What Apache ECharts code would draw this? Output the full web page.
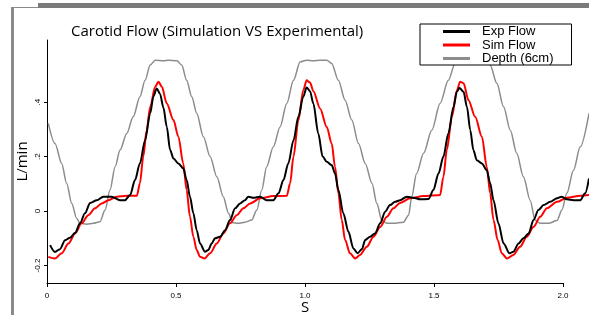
<!DOCTYPE html>
<html>
<head>
<meta charset="utf-8">
<script src="https://cdn.jsdelivr.net/npm/echarts@6/dist/echarts.min.js"></script>
<style>
  html, body { margin: 0; padding: 0; background: #fff; }
  #chart { width: 589px; height: 315px; }
</style>
</head>
<body>
<div id="chart"></div>
<script>
// values, [seconds, L/min]
const expFlow = [
  [0.012,-0.125],[0.031,-0.15],[0.05,-0.14],[0.07,-0.107],[0.089,-0.098],[0.109,-0.08],[0.128,-0.045],
  [0.147,-0.008],[0.167,0.03],[0.193,0.04],[0.218,0.053],[0.25,0.053],[0.283,0.04],[0.302,0.04],
  [0.322,0.059],[0.341,0.114],[0.36,0.175],[0.38,0.26],[0.4,0.36],[0.412,0.42],[0.425,0.45],
  [0.438,0.43],[0.451,0.38],[0.464,0.31],[0.477,0.224],[0.49,0.193],[0.509,0.175],[0.528,0.157],
  [0.541,0.114],[0.554,0.053],[0.567,-0.008],[0.58,-0.07],[0.593,-0.119],[0.612,-0.149],[0.625,-0.143],
  [0.638,-0.119],[0.651,-0.1],[0.671,-0.094],[0.69,-0.07],[0.709,-0.033],[0.729,0.01],[0.748,0.028],
  [0.767,0.04],[0.78,0.053],[0.8,0.049],[0.826,0.053],[0.851,0.04],[0.877,0.04],[0.897,0.065],
  [0.916,0.114],[0.935,0.175],[0.955,0.26],[0.974,0.346],[0.993,0.42],[1.006,0.454],[1.019,0.44],
  [1.032,0.395],[1.051,0.285],[1.068,0.2],[1.084,0.181],[1.103,0.169],[1.116,0.138],[1.129,0.077],
  [1.148,-0.008],[1.168,-0.076],[1.187,-0.137],[1.203,-0.155],[1.22,-0.14],[1.233,-0.106],[1.252,-0.094],
  [1.271,-0.082],[1.291,-0.045],[1.31,-0.002],[1.329,0.022],[1.349,0.034],[1.368,0.04],[1.394,0.053],
  [1.42,0.049],[1.446,0.043],[1.478,0.044],[1.497,0.077],[1.517,0.138],[1.536,0.2],[1.555,0.285],
  [1.575,0.383],[1.588,0.438],[1.598,0.452],[1.614,0.438],[1.627,0.383],[1.64,0.297],[1.652,0.224],
  [1.665,0.187],[1.685,0.175],[1.704,0.15],[1.717,0.102],[1.73,0.04],[1.749,-0.045],[1.769,-0.119],
  [1.792,-0.155],[1.807,-0.149],[1.827,-0.119],[1.846,-0.1],[1.866,-0.082],[1.885,-0.033],[1.904,0.004],
  [1.924,0.022],[1.95,0.034],[1.976,0.047],[1.995,0.053],[2.014,0.043],[2.04,0.04],[2.066,0.04],
  [2.085,0.065],[2.1,0.12]
];
const simFlow = [
  [0.005,-0.168],[0.031,-0.174],[0.057,-0.155],[0.083,-0.119],[0.109,-0.082],[0.134,-0.045],[0.16,-0.015],
  [0.186,0.01],[0.212,0.028],[0.238,0.04],[0.27,0.053],[0.309,0.056],[0.348,0.056],[0.36,0.102],
  [0.373,0.2],[0.386,0.297],[0.4,0.383],[0.419,0.456],[0.432,0.475],[0.445,0.456],[0.464,0.395],
  [0.49,0.334],[0.509,0.273],[0.528,0.175],[0.541,0.077],[0.554,-0.021],[0.567,-0.094],[0.58,-0.143],
  [0.593,-0.168],[0.61,-0.174],[0.632,-0.155],[0.658,-0.119],[0.683,-0.082],[0.709,-0.045],[0.735,-0.015],
  [0.761,0.01],[0.787,0.028],[0.826,0.047],[0.877,0.055],[0.929,0.056],[0.942,0.102],[0.955,0.2],
  [0.974,0.334],[0.993,0.444],[1.006,0.48],[1.019,0.472],[1.032,0.44],[1.058,0.377],[1.084,0.309],
  [1.103,0.248],[1.116,0.163],[1.129,0.065],[1.142,-0.033],[1.155,-0.106],[1.174,-0.155],[1.194,-0.174],
  [1.213,-0.161],[1.239,-0.131],[1.265,-0.094],[1.291,-0.058],[1.317,-0.021],[1.342,0.01],[1.368,0.03],
  [1.407,0.047],[1.459,0.055],[1.523,0.059],[1.536,0.126],[1.549,0.224],[1.569,0.346],[1.588,0.444],
  [1.601,0.475],[1.614,0.469],[1.633,0.407],[1.659,0.346],[1.685,0.273],[1.704,0.163],[1.717,0.065],
  [1.73,-0.033],[1.746,-0.106],[1.762,-0.155],[1.782,-0.174],[1.807,-0.161],[1.833,-0.131],[1.859,-0.094],
  [1.885,-0.058],[1.911,-0.021],[1.937,0.01],[1.976,0.034],[2.014,0.049],[2.066,0.056],[2.1,0.059]
];
const depth = [
  [0.005,0.322],[0.031,0.248],[0.057,0.175],[0.076,0.102],[0.096,0.028],[0.115,-0.027],[0.128,-0.045],
  [0.154,-0.048],[0.18,-0.045],[0.205,-0.039],[0.225,0.004],[0.244,0.077],[0.264,0.163],[0.283,0.224],
  [0.309,0.285],[0.334,0.346],[0.36,0.42],[0.38,0.48],[0.4,0.536],[0.419,0.554],[0.451,0.552],
  [0.47,0.554],[0.503,0.552],[0.522,0.536],[0.541,0.48],[0.561,0.42],[0.58,0.359],[0.606,0.273],
  [0.632,0.2],[0.658,0.126],[0.683,0.053],[0.703,-0.008],[0.72,-0.043],[0.741,-0.045],[0.767,-0.041],
  [0.793,-0.033],[0.813,0.004],[0.832,0.077],[0.851,0.163],[0.877,0.236],[0.903,0.309],[0.929,0.395],
  [0.955,0.48],[0.981,0.548],[1.006,0.554],[1.032,0.552],[1.058,0.554],[1.084,0.554],[1.103,0.542],
  [1.129,0.48],[1.155,0.407],[1.181,0.334],[1.207,0.248],[1.233,0.175],[1.259,0.102],[1.278,0.028],
  [1.297,-0.033],[1.317,-0.045],[1.342,-0.045],[1.381,-0.041],[1.401,-0.015],[1.413,0.053],[1.432,0.138],
  [1.459,0.212],[1.491,0.297],[1.523,0.395],[1.555,0.48],[1.581,0.542],[1.6,0.554],[1.65,0.554],
  [1.7,0.552],[1.717,0.536],[1.743,0.469],[1.769,0.383],[1.795,0.297],[1.82,0.212],[1.846,0.126],
  [1.872,0.04],[1.891,-0.033],[1.911,-0.045],[1.943,-0.045],[1.976,-0.035],[1.995,0.004],[2.014,0.065],
  [2.04,0.15],[2.066,0.236],[2.1,0.359]
];
const yTicks = [-0.2, 0, 0.2, 0.4];
const yTickLabels = ['-0.2', '0', '.2', '.4'];
const seriesNames = ['Exp Flow', 'Sim Flow', 'Depth (6cm)'];

const chart = echarts.init(document.getElementById('chart'), null, { renderer: 'canvas' });

const axisText = { color: '#000', fontFamily: 'Liberation Sans', fontSize: 8 };
const nameText = { fontFamily: 'Open Sans', fontSize: 15, color: '#000' };

chart.setOption({
  animation: false,
  backgroundColor: '#fff',
  title: {
    text: 'Carotid Flow (Simulation VS Experimental)',
    left: 66,
    top: 19,
    textStyle: { fontFamily: 'Open Sans', fontSize: 15, fontWeight: 'normal', color: '#000' },
  },
  legend: {
    data: seriesNames,
    orient: 'vertical',
    left: 420,
    top: 24,
    padding: [1, 18, 0, 23],
    itemGap: 0.5,
    itemWidth: 27,
    itemHeight: 3,
    icon: 'rect',
    borderColor: '#000',
    borderWidth: 1,
    borderRadius: 0,
    backgroundColor: '#fff',
    textStyle: {
      fontFamily: 'Liberation Sans',
      fontSize: 13,
      lineHeight: 12,
      color: '#000',
      padding: [0, 0, 0, 7],
    },
  },
  // grid 0 holds the curves (they run on past 2.0 s), grid 1 only shows the bottom axis up to 2.0 s
  grid: [
    { left: 47, right: 0, top: 40, bottom: 32, outerBoundsMode: 'none' },
    { left: 47, right: 26, top: 40, bottom: 32, outerBoundsMode: 'none' },
  ],
  xAxis: [
    {
      gridIndex: 0,
      type: 'value',
      min: 0,
      max: 2.1,
      show: false,
    },
    {
      gridIndex: 1,
      type: 'value',
      min: 0,
      max: 2,
      interval: 0.5,
      name: 'S',
      nameLocation: 'middle',
      nameGap: 17,
      nameMoveOverlap: false,
      nameTextStyle: nameText,
      axisLine: { onZero: false, lineStyle: { color: '#000', width: 1 } },
      axisTick: { length: 4, lineStyle: { color: '#000' } },
      axisLabel: {
        ...axisText,
        margin: 9,
        formatter: (v) => (v === 0 ? '0' : v.toFixed(1)),
      },
      splitLine: { show: false },
    },
  ],
  yAxis: [
    {
      gridIndex: 0,
      type: 'value',
      min: -0.264,
      max: 0.628,
      name: 'L/min',
      nameLocation: 'middle',
      nameRotate: 90,
      nameGap: 17,
      nameMoveOverlap: false,
      nameTextStyle: nameText,
      axisLine: { show: true, onZero: false, lineStyle: { color: '#000', width: 1 } },
      axisTick: { show: true, length: 3, customValues: yTicks, lineStyle: { color: '#000' } },
      axisLabel: {
        ...axisText,
        rotate: 90,
        margin: 5,
        customValues: yTicks,
        formatter: (v) => yTickLabels[yTicks.indexOf(Math.round(v * 10) / 10)],
      },
      splitLine: { show: false },
    },
    {
      gridIndex: 1,
      type: 'value',
      min: -0.264,
      max: 0.628,
      show: false,
    },
  ],
  series: [
    {
      name: seriesNames[0], type: 'line', data: expFlow, showSymbol: false,
      smooth: 0.3, smoothMonotone: 'x', z: 4,
      lineStyle: { color: '#000', width: 2 }, itemStyle: { color: '#000' },
    },
    {
      name: seriesNames[1], type: 'line', data: simFlow, showSymbol: false,
      smooth: 0.3, smoothMonotone: 'x', z: 3,
      lineStyle: { color: '#ff0000', width: 2 }, itemStyle: { color: '#ff0000' },
    },
    {
      name: seriesNames[2], type: 'line', data: depth, showSymbol: false,
      smooth: 0.3, smoothMonotone: 'x', z: 2,
      lineStyle: { color: '#8c8c8c', width: 1.5 }, itemStyle: { color: '#8c8c8c' },
    },
  ],
  graphic: [
    { type: 'rect', left: 38, top: 3, shape: { width: 551, height: 5 }, style: { fill: '#7a7a7a' }, silent: true },
    { type: 'rect', left: 11, top: 7, shape: { width: 3, height: 308 }, style: { fill: '#8a8a8a' }, silent: true },
    { type: 'rect', left: 11, top: 7, shape: { width: 27, height: 1 }, style: { fill: '#8a8a8a' }, silent: true },
  ],
});
</script>
</body>
</html>
